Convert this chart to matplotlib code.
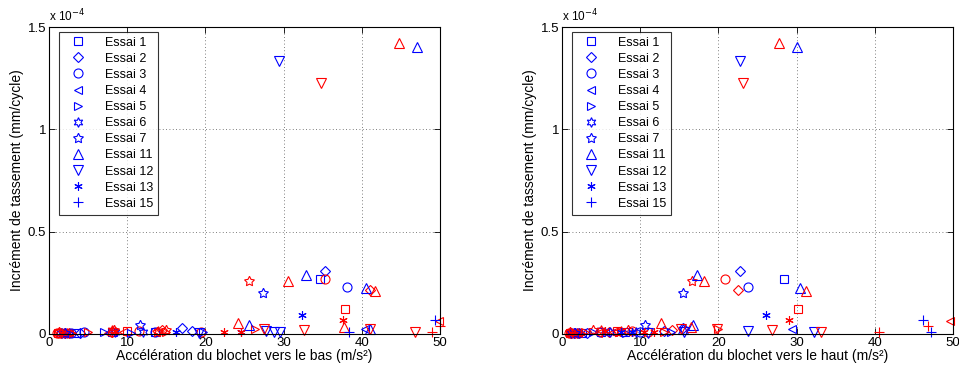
import matplotlib
matplotlib.use("Agg")
import matplotlib.pyplot as plt

plt.rcParams['font.family'] = ['Liberation Sans', 'DejaVu Sans']

# each point: (accel vers le bas, accel vers le haut, increment x 1e-4)
e1_bleu = [(34.7, 28.4, 0.27), (1.5, 1.3, 0.005), (3.5, 2.5, 0.003), (8.0, 5.0, 0.008), (13.5, 8.0, 0.010)]
e1_rouge = [(37.8, 30.2, 0.12), (1.2, 1.0, 0.004), (2.5, 2.0, 0.006), (10.0, 7.0, 0.015), (1.9, 1.5, 0.003)]
e2_bleu = [(35.3, 22.7, 0.31), (2.0, 1.5, 0.004), (4.0, 3.2, 0.005), (17.0, 15.5, 0.030), (18.3, 13.0, 0.015)]
e2_rouge = [(41.1, 22.5, 0.215), (1.5, 1.2, 0.006), (8.0, 6.0, 0.012), (14.5, 14.1, 0.020), (2.6, 2.2, 0.005)]
e3_bleu = [(38.1, 23.8, 0.23), (2.8, 2.0, 0.006), (4.5, 4.8, 0.010), (13.5, 10.0, 0.012)]
e3_rouge = [(35.3, 20.9, 0.27), (1.3, 1.1, 0.005), (11.5, 9.0, 0.013), (19.5, 11.0, 0.010), (1.0, 0.9, 0.004)]
e4_bleu = [(40.4, 29.4, 0.025), (2.2, 1.8, 0.004), (8.2, 5.5, 0.008)]
e4_rouge = [(49.9, 49.6, 0.065), (1.8, 1.4, 0.005), (9.5, 6.5, 0.010), (7.6, 4.6, 0.006)]
e5_bleu = [(7.0, 4.0, 0.008), (19.7, 14.0, 0.010), (2.5, 2.1, 0.003), (10.5, 8.2, 0.006)]
e5_rouge = [(5.0, 3.0, 0.010), (26.3, 20.0, 0.025), (15.0, 13.0, 0.012), (2.9, 2.4, 0.004)]
e6_bleu = [(1.6, 1.2, 0.005), (8.5, 6.2, 0.010), (12.0, 9.5, 0.008)]
e6_rouge = [(1.9, 1.6, 0.006), (14.0, 7.5, 0.015), (8.0, 5.0, 0.020), (2.3, 1.9, 0.004)]
e7_bleu = [(27.4, 15.5, 0.20), (11.6, 10.6, 0.045), (2.0, 1.7, 0.006)]
e7_rouge = [(25.6, 16.6, 0.26), (8.3, 4.0, 0.020), (15.0, 8.5, 0.018), (1.3, 1.0, 0.008), (13.8, 7.2, 0.012)]
e11_bleu = [(47.0, 30.1, 1.40), (32.9, 17.2, 0.29), (40.6, 30.4, 0.225), (25.6, 16.8, 0.045), (41.0, 15.5, 0.025)]
e11_rouge = [(44.7, 27.7, 1.42), (30.5, 18.1, 0.26), (41.7, 31.2, 0.21), (24.2, 12.6, 0.055), (37.7, 16.5, 0.035)]
e12_bleu = [(29.4, 22.8, 1.336), (27.7, 23.8, 0.015), (28.8, 32.2, 0.012), (29.6, 15.6, 0.008), (19.2, 11.0, 0.006)]
e12_rouge = [(34.8, 23.1, 1.225), (32.6, 26.9, 0.020), (46.8, 33.1, 0.012), (27.5, 19.8, 0.022), (41.0, 15.2, 0.025)]
e13_bleu = [(32.3, 26.1, 0.095), (16.2, 9.0, 0.008), (24.5, 7.5, 0.010)]
e13_rouge = [(37.6, 29.0, 0.070), (22.4, 10.5, 0.012), (24.6, 11.8, 0.008), (8.5, 5.5, 0.015), (1.6, 1.3, 0.007)]
e15_bleu = [(49.4, 46.1, 0.068), (38.3, 47.2, 0.010)]
e15_rouge = [(50.0, 46.8, 0.040), (49.0, 40.6, 0.012)]

labels = ['Essai 1', 'Essai 2', 'Essai 3', 'Essai 4', 'Essai 5', 'Essai 6',
          'Essai 7', 'Essai 11', 'Essai 12', 'Essai 13', 'Essai 15']
markers = ['s', 'D', 'o', '<', '>', (6, 1, 0), (5, 1, 0), '^', 'v', (6, 2, 0), '+']
sizes = [6, 5, 6.5, 6, 6, 7, 7.5, 6.5, 6.5, 6, 7]
bleus = [e1_bleu, e2_bleu, e3_bleu, e4_bleu, e5_bleu, e6_bleu, e7_bleu,
         e11_bleu, e12_bleu, e13_bleu, e15_bleu]
rouges = [e1_rouge, e2_rouge, e3_rouge, e4_rouge, e5_rouge, e6_rouge, e7_rouge,
          e11_rouge, e12_rouge, e13_rouge, e15_rouge]

fig = plt.figure(figsize=(9.59, 3.70), dpi=100)
ax1 = fig.add_axes([49 / 959, 36 / 370, 391 / 959, 307 / 370])
ax2 = fig.add_axes([562 / 959, 36 / 370, 391 / 959, 307 / 370])

xlabels = ['Accélération du blochet vers le bas (m/s²)',
           'Accélération du blochet vers le haut (m/s²)']

for k, ax in enumerate([ax1, ax2]):
    for lab, m, s, b, r in zip(labels, markers, sizes, bleus, rouges):
        xb = [p[k] for p in b]
        yb = [p[2] * 1e-4 for p in b]
        xr = [p[k] for p in r]
        yr = [p[2] * 1e-4 for p in r]
        ax.plot(xb, yb, linestyle='none', marker=m, ms=s, mfc='none', mec='blue',
                mew=0.8, label=lab, clip_on=False)
        ax.plot(xr, yr, linestyle='none', marker=m, ms=s, mfc='none', mec='red',
                mew=0.8, clip_on=False)
    ax.set_xlim(0, 50)
    ax.set_ylim(0, 1.5e-4)
    ax.set_xticks([0, 10, 20, 30, 40, 50])
    ax.set_yticks([0, 0.5e-4, 1e-4, 1.5e-4])
    ax.set_yticklabels(['0', '0.5', '1', '1.5'])
    ax.tick_params(direction='in', length=4, width=0.6, labelsize=9.5, top=True, right=True, pad=2)
    ax.grid(True, linestyle=(0, (1, 3)), color='#555555', linewidth=0.6)
    for sp in ax.spines.values():
        sp.set_linewidth(0.8)
    ax.set_xlabel(xlabels[k], fontsize=10, labelpad=0)
    ax.set_ylabel('Incrément de tassement (mm/cycle)', fontsize=10, labelpad=3)
    ax.text(0, 1.01, r'x 10$^{-4}$', transform=ax.transAxes, fontsize=8.5, va='bottom')
    leg = ax.legend(loc='upper left', bbox_to_anchor=(0.025, 0.985), fontsize=9,
                    frameon=True, fancybox=False, edgecolor='black', borderaxespad=0,
                    labelspacing=0.33, handlelength=2.3, handletextpad=1.0, borderpad=0.4)
    leg.get_frame().set_linewidth(0.8)

fig.savefig('out.png', dpi=100)
